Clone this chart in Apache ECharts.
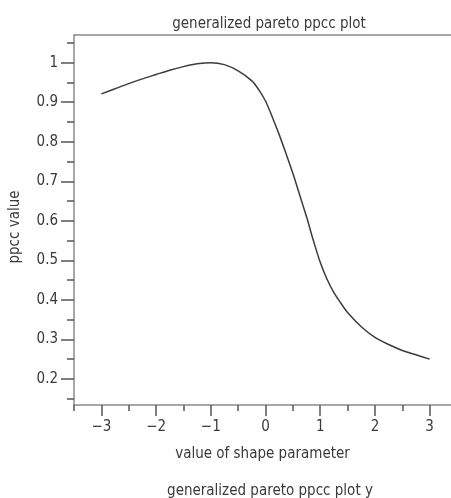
<!DOCTYPE html>
<html>
<head>
<meta charset="utf-8">
<script src="https://cdn.jsdelivr.net/npm/echarts@6/dist/echarts.min.js"></script>
<style>html,body{margin:0;padding:0;background:#fff}#c{width:451px;height:498px}</style>
</head>
<body>
<div id="c"></div>
<script>
const shapeParam = [-3, -2.75, -2.5, -2.25, -2, -1.75, -1.5, -1.25, -1, -0.75, -0.5, -0.25, -0.125, 0, 0.125, 0.25, 0.375, 0.5, 0.625, 0.75, 0.875, 1, 1.125, 1.25, 1.375, 1.5, 1.75, 2, 2.25, 2.5, 2.75, 3];
const ppccValue = [0.921, 0.934, 0.947, 0.959, 0.970, 0.981, 0.990, 0.997, 1.000, 0.995, 0.979, 0.954, 0.932, 0.903, 0.862, 0.818, 0.770, 0.720, 0.665, 0.610, 0.550, 0.495, 0.452, 0.418, 0.392, 0.368, 0.332, 0.305, 0.287, 0.272, 0.261, 0.250];
const xMajorTicks = [-3, -2, -1, 0, 1, 2, 3];
const xMinorTicks = [-3.5, -2.5, -1.5, -0.5, 0.5, 1.5, 2.5];
const yMajorTicks = [0.2, 0.3, 0.4, 0.5, 0.6, 0.7, 0.8, 0.9, 1];
const yMinorTicks = [0.15, 0.25, 0.35, 0.45, 0.55, 0.65, 0.75, 0.85, 0.95, 1.05];
const titleText = 'generalized pareto ppcc plot';
const xName = 'value of shape parameter';
const yName = 'ppcc value';
const footText = 'generalized pareto ppcc plot y';

const FONT = '"Liberation Sans Narrow", "DejaVu Sans Condensed", sans-serif';
const TXT = '#3a3a3a';
const AX = '#8a8a8a';
const TK = '#555';
const X0 = -3.5, X1 = 3.39, Y0 = 0.134, Y1 = 1.07;

const chart = echarts.init(document.getElementById('c'), null, {renderer: 'canvas'});
chart.setOption({
  animation: false,
  backgroundColor: '#fff',
  title: [
    {text: titleText, left: 264, top: 12, textAlign: 'center',
     textStyle: {fontFamily: FONT, fontSize: 15, fontWeight: 'normal', color: TXT}},
    {text: footText, left: 265, top: 479, textAlign: 'center',
     textStyle: {fontFamily: FONT, fontSize: 15, fontWeight: 'normal', color: TXT}}
  ],
  grid: {left: 71, top: 35, right: 0, bottom: 93, show: false, containLabel: false},
  xAxis: [
    {type: 'value', min: X0, max: X1, position: 'bottom',
     name: xName, nameLocation: 'middle', nameGap: 42,
     nameTextStyle: {fontFamily: FONT, fontSize: 15, color: TXT},
     axisLine: {show: true, onZero: false, lineStyle: {color: AX, width: 1.5}},
     axisTick: {show: true, length: 11, customValues: xMajorTicks, lineStyle: {color: TK, width: 1.5}},
     axisLabel: {show: true, customValues: xMajorTicks, margin: 15, fontFamily: FONT, fontSize: 15, color: TXT,
       formatter: v => (v < 0 ? '\u2212' + Math.abs(v) : String(v))},
     splitLine: {show: false}},
    {type: 'value', min: X0, max: X1, position: 'bottom',
     axisLine: {show: false, onZero: false},
     axisTick: {show: true, length: 6, customValues: xMinorTicks, lineStyle: {color: TK, width: 1.5}},
     axisLabel: {show: false}, splitLine: {show: false}},
    {type: 'value', min: X0, max: X1, position: 'top',
     axisLine: {show: true, onZero: false, lineStyle: {color: AX, width: 1.5}},
     axisTick: {show: false}, axisLabel: {show: false}, splitLine: {show: false}}
  ],
  yAxis: [
    {type: 'value', min: Y0, max: Y1, position: 'left',
     name: yName, nameLocation: 'middle', nameGap: 51,
     nameTextStyle: {fontFamily: FONT, fontSize: 15, color: TXT, padding: [0, 14, 0, 0]},
     axisLine: {show: true, onZero: false, lineStyle: {color: AX, width: 1.5}},
     axisTick: {show: true, length: 13, customValues: yMajorTicks, lineStyle: {color: TK, width: 1.5}},
     axisLabel: {show: true, customValues: yMajorTicks, margin: 16, fontFamily: FONT, fontSize: 15, color: TXT},
     splitLine: {show: false}},
    {type: 'value', min: Y0, max: Y1, position: 'left',
     axisLine: {show: false, onZero: false},
     axisTick: {show: true, length: 7, customValues: yMinorTicks, lineStyle: {color: TK, width: 1.5}},
     axisLabel: {show: false}, splitLine: {show: false}}
  ],
  series: [{
    type: 'line', xAxisIndex: 0, yAxisIndex: 0,
    data: shapeParam.map((x, i) => [x, ppccValue[i]]),
    showSymbol: false, smooth: 0.3,
    lineStyle: {color: '#3c3c3c', width: 1.5}
  }]
});
</script>
</body>
</html>
